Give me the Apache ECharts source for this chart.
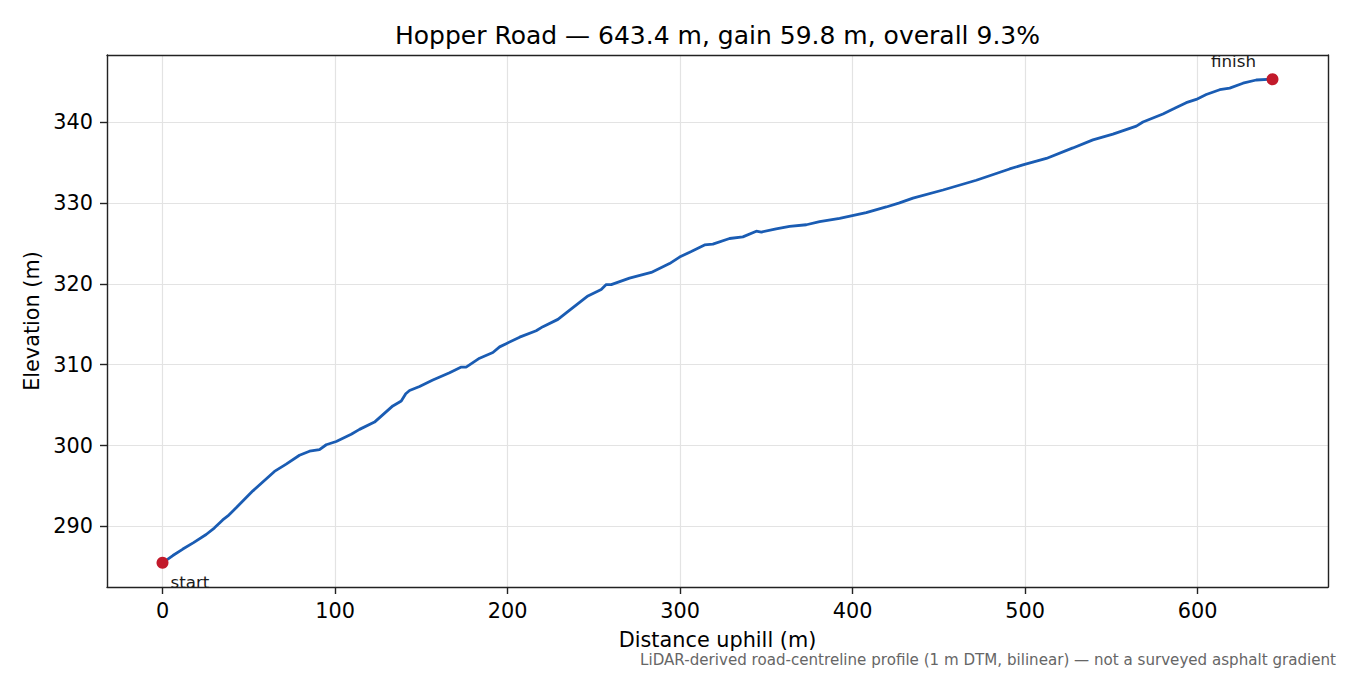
<!DOCTYPE html>
<html>
<head>
<meta charset="utf-8">
<script src="https://cdn.jsdelivr.net/npm/echarts@6/dist/echarts.min.js"></script>
<style>
html,body{margin:0;padding:0;background:#fff;}
#chart{width:1350px;height:675px;}
</style>
</head>
<body>
<div id="chart"></div>
<script>
const distance = [0, 6, 11.8, 18, 25.3, 30, 34.9, 37.9, 42.7, 52.4, 64.9, 71.7, 79.4, 85.2, 91, 94.9, 100.7, 109.4, 114.2, 122.9, 133.5, 138.4, 141, 143.2, 149, 156.7, 166.4, 173.2, 176, 183.8, 191.5, 195.4, 199.2, 207, 216.6, 220.5, 229.2, 234, 246.6, 254.3, 257.2, 260.1, 270.7, 283.3, 293.9, 299.7, 306.5, 314.2, 319, 328.7, 336.4, 344.2, 347.1, 355.7, 363.5, 373.2, 380.9, 392.5, 407.9, 419.5, 427.2, 435, 452.4, 471.7, 491, 498.7, 512.3, 527.7, 539.3, 550.9, 564.5, 568.3, 579.9, 586.7, 593.4, 599.2, 605, 612.8, 618.6, 626.3, 634, 643.4];
const elevation = [285.5, 286.4, 287.2, 288.0, 289.0, 289.8, 290.8, 291.3, 292.3, 294.4, 296.8, 297.7, 298.8, 299.3, 299.5, 300.1, 300.5, 301.4, 302.0, 302.9, 304.9, 305.5, 306.4, 306.8, 307.3, 308.1, 309.0, 309.7, 309.7, 310.8, 311.5, 312.2, 312.6, 313.4, 314.2, 314.7, 315.6, 316.4, 318.5, 319.3, 319.9, 319.9, 320.7, 321.4, 322.5, 323.3, 324.0, 324.8, 324.9, 325.6, 325.8, 326.5, 326.4, 326.8, 327.1, 327.3, 327.7, 328.1, 328.8, 329.5, 330.0, 330.6, 331.6, 332.8, 334.2, 334.7, 335.5, 336.8, 337.8, 338.5, 339.5, 340.0, 341.0, 341.7, 342.4, 342.8, 343.4, 344.0, 344.2, 344.8, 345.2, 345.3];
const endpointLabels = ['start', 'finish'];
const titleText = 'Hopper Road \u2014 643.4 m, gain 59.8 m, overall 9.3%';
const xAxisName = 'Distance uphill (m)';
const yAxisName = 'Elevation (m)';
const footnote = 'LiDAR-derived road-centreline profile (1 m DTM, bilinear) \u2014 not a surveyed asphalt gradient';

const FONT = 'DejaVu Sans';
const lineData = distance.map((d, i) => [d, elevation[i]]);
const last = distance.length - 1;
const xSpan = distance[last] - distance[0];
const ySpan = Math.max(...elevation) - Math.min(...elevation);
const xMin = distance[0] - 0.05 * xSpan, xMax = distance[last] + 0.05 * xSpan;
const yMin = Math.min(...elevation) - 0.05 * ySpan, yMax = Math.max(...elevation) + 0.05 * ySpan;

const spine = {show: true, onZero: false, lineStyle: {color: '#222', width: 1.4}};
const tick = {show: true, inside: false, length: 7, lineStyle: {color: '#222', width: 1.4}};
const grid = {show: true, lineStyle: {color: '#e3e3e3', width: 1.2}};

const chart = echarts.init(document.getElementById('chart'), null, {renderer: 'svg'});
chart.setOption({
  backgroundColor: '#fff',
  animation: false,
  textStyle: {fontFamily: FONT},
  grid: {left: 107, right: 22, top: 55, bottom: 88},
  graphic: [
    {type: 'text', x: 717.5, y: 35, style: {text: titleText, font: '25px "DejaVu Sans"', fill: '#000', align: 'center', verticalAlign: 'middle'}},
    {type: 'text', x: 1336, y: 660, style: {text: footnote, font: '15.1px "DejaVu Sans"', fill: '#666', align: 'right', verticalAlign: 'middle'}}
  ],
  xAxis: [{
    type: 'value', min: xMin, max: xMax, position: 'bottom',
    name: xAxisName, nameLocation: 'middle', nameGap: 42,
    nameTextStyle: {fontSize: 20.8, color: '#000', fontFamily: FONT},
    axisLine: spine, axisTick: tick,
    axisLabel: {fontSize: 20.8, color: '#000', margin: 13, showMinLabel: false, showMaxLabel: false, fontFamily: FONT},
    splitLine: grid, z: 1
  }, {
    type: 'value', min: xMin, max: xMax, position: 'top',
    axisLine: spine, axisTick: {show: false}, axisLabel: {show: false}, splitLine: {show: false}, z: 5
  }],
  yAxis: [{
    type: 'value', min: yMin, max: yMax, position: 'left',
    name: yAxisName, nameLocation: 'middle', nameGap: 60, nameRotate: 90,
    nameTextStyle: {fontSize: 20.8, color: '#000', fontFamily: FONT},
    axisLine: spine, axisTick: tick,
    axisLabel: {fontSize: 20.8, color: '#000', margin: 14, showMinLabel: false, showMaxLabel: false, fontFamily: FONT},
    splitLine: grid, z: 1
  }, {
    type: 'value', min: yMin, max: yMax, position: 'right',
    axisLine: spine, axisTick: {show: false}, axisLabel: {show: false}, splitLine: {show: false}, z: 5
  }],
  series: [
    {
      type: 'line', data: lineData, showSymbol: false, symbol: 'none',
      lineStyle: {color: '#1a5cb3', width: 2.8}, z: 3
    },
    {
      type: 'scatter', symbolSize: 12, z: 4,
      itemStyle: {color: '#c21a2b', opacity: 1},
      data: [
        {value: lineData[0], label: {show: true, formatter: endpointLabels[0], position: [14, 25], align: 'left', verticalAlign: 'middle'}},
        {value: lineData[last], label: {show: true, formatter: endpointLabels[1], position: [-33, -12], align: 'center', verticalAlign: 'middle'}}
      ],
      label: {fontSize: 16.7, color: '#1a1a1a', opacity: 1, fontFamily: FONT}
    }
  ]
});
</script>
</body>
</html>
